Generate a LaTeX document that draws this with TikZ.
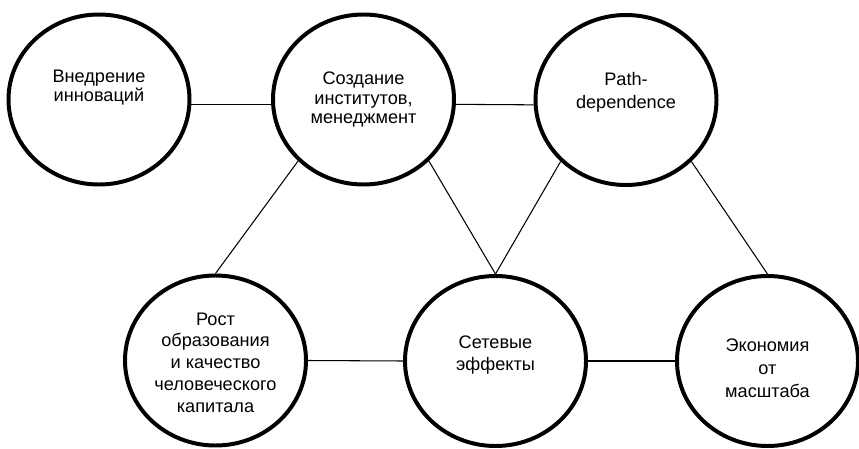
\documentclass[tikz,border=0pt]{standalone}
\usepackage{fontspec}
\setmainfont{Liberation Sans}
\usetikzlibrary{shapes.geometric}

\tikzset{
  blob/.style={ellipse, draw, line width=3.4pt, minimum width=5.43cm, minimum height=5.1cm},
  lbl/.style={align=center, font=\fontsize{15.5}{19.5}\selectfont},
  tight/.style={font=\fontsize{15.5}{16.5}\selectfont},
  link/.style={line width=0.9pt}
}

\begin{document}
\begin{tikzpicture}[x=0.03cm, y=-0.03cm]
            \useasboundingbox (0,0) rectangle (859,449);

            % Circles
            \node[blob] (vnedr) at (99,99.5) {};
            \node[blob] (inst) at (363.5,99.5) {};
            \node[blob] (path) at (626,100) {};
            \node[blob] (rost) at (215.5,360.5) {};
            \node[blob] (set) at (495.5,361) {};
            \node[blob] (econ) at (767.5,361) {};

            % Texts
            \node[lbl, tight] (vnedr-t) at ([yshift=0.36cm]vnedr) {Внедрение\\инноваций};
            \node[lbl, tight] (inst-t) at (inst) {Создание\\институтов,\\менеджмент};
            \node[lbl] (path-t) at ([yshift=0.24cm]path) {Path-\\dependence};
            \node[lbl, font=\fontsize{15.5}{18.5}\selectfont] (rost-t) at ([yshift=-0.06cm]rost) {Рост\\образования\\и качество\\человеческого\\капитала};
            \node[lbl] (set-t) at ([yshift=0.18cm]set) {Сетевые\\эффекты};
            \node[lbl] (econ-t) at ([yshift=-0.21cm]econ) {Экономия\\от\\масштаба};

            % Links
            \draw[link] (vnedr.-3) -- (inst.183);
            \draw[link] (inst.-3) -- (path.183);
            \draw[link] (rost.east) -- (set.west);
            \draw[link] (set.east) -- (econ.west);
            \draw[link] (inst.south west) -- (rost.north);
            \draw[link] (inst.south east) -- (set.north);
            \draw[link] (path.south west) -- (set.north);
            \draw[link] (path.south east) -- (econ.north);
\end{tikzpicture}
\end{document}
